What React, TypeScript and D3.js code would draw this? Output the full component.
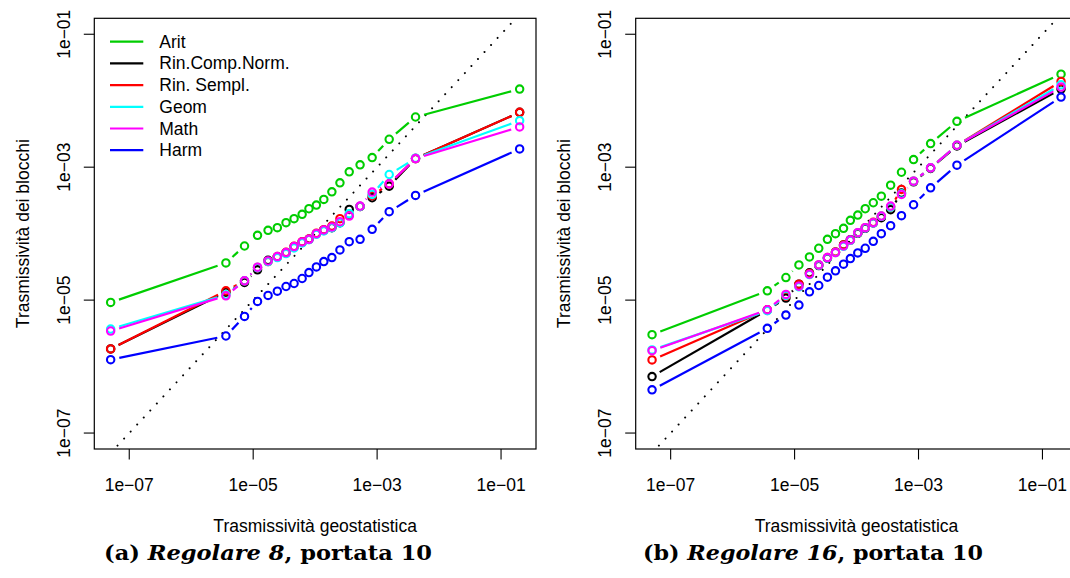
import { useEffect } from 'react';
import * as d3 from 'd3';

// log10 of the geostatistical transmissivity (shared x values)
const geoLog = [-7.30, -5.44, -5.14, -4.93, -4.76, -4.61, -4.47, -4.34, -4.21, -4.10,
  -3.98, -3.86, -3.73, -3.60, -3.45, -3.275, -3.08, -2.805, -2.38, -0.70];

const seriesNames = ['Arit', 'Rin.Comp.Norm.', 'Rin. Sempl.', 'Geom', 'Math', 'Harm'];
const seriesColors = ['#00CD00', '#000000', '#FF0000', '#00FFFF', '#FF00FF', '#0000FF'];

// panel (a) Regolare 8 - log10 block transmissivity
const aArit = [-5.035, -4.44, -4.186, -4.025, -3.95, -3.91, -3.835, -3.775, -3.71, -3.625,
  -3.57, -3.485, -3.37, -3.235, -3.07, -2.965, -2.855, -2.58, -2.245, -1.825];
const aRinComp = [-5.735, -4.88, -4.735, -4.545, -4.40, -4.35, -4.29, -4.20, -4.13, -4.085,
  -4.0, -3.95, -3.91, -3.835, -3.635, -3.59, -3.46, -3.285, -2.87, -2.175];
const aRinSempl = [-5.735, -4.86, -4.71, -4.51, -4.42, -4.345, -4.28, -4.19, -4.12, -4.08,
  -3.995, -3.94, -3.885, -3.775, -3.72, -3.59, -3.43, -3.25, -2.87, -2.175];
const aGeom = [-5.435, -4.92, -4.71, -4.51, -4.42, -4.36, -4.30, -4.215, -4.14, -4.09,
  -4.01, -3.96, -3.91, -3.84, -3.70, -3.59, -3.41, -3.11, -2.865, -2.30];
const aMath = [-5.465, -4.935, -4.71, -4.505, -4.41, -4.345, -4.285, -4.195, -4.125, -4.085,
  -4.0, -3.945, -3.90, -3.82, -3.735, -3.585, -3.375, -3.25, -2.87, -2.395];
const aHarm = [-5.896, -5.54, -5.245, -5.02, -4.93, -4.865, -4.795, -4.75, -4.675, -4.585,
  -4.50, -4.42, -4.36, -4.245, -4.12, -4.085, -3.935, -3.67, -3.425, -2.725];

// panel (b) Regolare 16
const bArit = [-5.52, -4.86, -4.66, -4.47, -4.35, -4.22, -4.085, -4.0, -3.92, -3.80,
  -3.72, -3.625, -3.535, -3.436, -3.27, -3.076, -2.885, -2.645, -2.31, -1.60];
const bRinComp = [-6.15, -5.15, -4.97, -4.76, -4.59, -4.48, -4.37, -4.28, -4.17, -4.09,
  -3.995, -3.92, -3.84, -3.76, -3.64, -3.39, -3.22, -3.02, -2.68, -1.825];
const bRinSempl = [-5.90, -5.145, -4.94, -4.76, -4.60, -4.47, -4.36, -4.275, -4.17, -4.10,
  -3.99, -3.91, -3.83, -3.74, -3.60, -3.335, -3.21, -3.01, -2.67, -1.71];
const bGeom = [-5.75, -5.16, -4.93, -4.80, -4.615, -4.475, -4.365, -4.285, -4.19, -4.10,
  -3.99, -3.915, -3.84, -3.74, -3.60, -3.40, -3.21, -3.01, -2.67, -1.76];
const bMath = [-5.76, -5.145, -4.915, -4.79, -4.61, -4.47, -4.36, -4.285, -4.185, -4.095,
  -3.985, -3.91, -3.835, -3.735, -3.585, -3.41, -3.21, -3.01, -2.67, -1.795];
const bHarm = [-6.35, -5.425, -5.225, -5.075, -4.875, -4.78, -4.655, -4.56, -4.46, -4.375,
  -4.29, -4.22, -4.115, -4.0, -3.88, -3.73, -3.565, -3.31, -2.97, -1.945];

const tickValues = [1e-7, 1e-5, 1e-3, 1e-1];
const tickLabels = ['1e\u221207', '1e\u221205', '1e\u221203', '1e\u221201'];
const yLimLog = [-7, -1];

const FONT = '"Liberation Sans", Arial, Helvetica, sans-serif';
const FS = 17.5;

interface PanelProps {
  id: string;
  left: number;
  series: number[][];
  caption: [string, string, string];
  captionX: number;
  captionLen: number;
  legend?: boolean;
}

function gapped(pts: [number, number][], gap: number) {
  // R type="b": segments shortened by a gap at both ends
  const segs: number[][] = [];
  for (let i = 1; i < pts.length; i++) {
    const [x0, y0] = pts[i - 1];
    const [x1, y1] = pts[i];
    const f = gap / Math.hypot(x1 - x0, y1 - y0);
    if (f < 0.5) segs.push([x0 + f * (x1 - x0), y0 + f * (y1 - y0), x1 - f * (x1 - x0), y1 - f * (y1 - y0)]);
  }
  return segs;
}

function Panel({ id, left, series, caption, captionX, captionLen, legend }: PanelProps) {
  const top = 18.3;
  const width = 441.7;
  const height = 430.7;
  const bottom = top + height;

  const [xmin, xmax] = d3.extent(geoLog) as [number, number];
  const xr = xmax - xmin;
  const x = d3.scaleLog()
    .domain([10 ** (xmin - 0.04 * xr), 10 ** (xmax + 0.04 * xr)])
    .range([left, left + width]);
  const yr = yLimLog[1] - yLimLog[0];
  const y = d3.scaleLog()
    .domain([10 ** (yLimLog[0] - 0.04 * yr), 10 ** (yLimLog[1] + 0.04 * yr)])
    .range([bottom, top]);

  const xd = x.domain();

  return (
    <g>
      <defs>
        <clipPath id={`clip-${id}`}>
          <rect x={left} y={top} width={width} height={height} />
        </clipPath>
      </defs>

      {/* y = x reference */}
      <line x1={x(xd[0] / 10)} y1={y(xd[0] / 10)} x2={x(xd[1] * 10)} y2={y(xd[1] * 10)}
        stroke="#000" strokeWidth={2} strokeDasharray="0.01 9.6" strokeLinecap="round"
        clipPath={`url(#clip-${id})`} />

      {series.map((vals, si) => {
        const pts = vals.map((v, i) => [x(10 ** geoLog[i]), y(10 ** v)] as [number, number]);
        return (
          <g key={si} stroke={seriesColors[si]} fill="none">
            {gapped(pts, 8.8).map((s, i) => (
              <line key={i} x1={s[0]} y1={s[1]} x2={s[2]} y2={s[3]} strokeWidth={2.2} />
            ))}
            {pts.map((p, i) => (
              <circle key={i} cx={p[0]} cy={p[1]} r={3.7} strokeWidth={2.1} />
            ))}
          </g>
        );
      })}

      <rect x={left} y={top} width={width} height={height} fill="none" stroke="#000" strokeWidth={1.2} />

      {/* x axis */}
      {tickValues.map((t, i) => (
        <g key={`x${i}`}>
          <line x1={x(t)} x2={x(t)} y1={bottom} y2={bottom + 10.5} stroke="#000" strokeWidth={1.1} />
          <text x={x(t)} y={490.7} textAnchor="middle" fontFamily={FONT} fontSize={FS}>{tickLabels[i]}</text>
        </g>
      ))}
      {/* y axis */}
      {tickValues.map((t, i) => (
        <g key={`y${i}`}>
          <line x1={left - 10.5} x2={left} y1={y(t)} y2={y(t)} stroke="#000" strokeWidth={1.1} />
          <text transform={`translate(${left - 24.3},${y(t)}) rotate(-90)`} textAnchor="middle"
            fontFamily={FONT} fontSize={FS}>{tickLabels[i]}</text>
        </g>
      ))}

      <text x={left + width / 2} y={532} textAnchor="middle" fontFamily={FONT} fontSize={FS}>
        Trasmissività geostatistica
      </text>
      <text transform={`translate(${left - 65.8},${top + height / 2}) rotate(-90)`} textAnchor="middle"
        fontFamily={FONT} fontSize={FS}>
        Trasmissività dei blocchi
      </text>

      {legend && seriesNames.map((name, i) => (
        <g key={name} transform={`translate(0,${41.7 + i * 21.7})`}>
          <line x1={110} x2={143.3} y1={0} y2={0} stroke={seriesColors[i]} strokeWidth={2.2} />
          <text x={159.3} y={6} fontFamily={FONT} fontSize={FS}>{name}</text>
        </g>
      ))}

      <text x={captionX} y={560} textAnchor="middle" fontFamily='"DejaVu Serif", serif' fontWeight="bold"
        fontSize={19.5} textLength={captionLen} lengthAdjust="spacingAndGlyphs">
        <tspan>{caption[0]}</tspan>
        <tspan fontStyle="italic">{caption[1]}</tspan>
        <tspan>{caption[2]}</tspan>
      </text>
    </g>
  );
}

export default function App() {
  useEffect(() => {
    document.body.style.margin = '0';
  }, []);

  return (
    <svg width={1070} height={578} style={{ display: 'block', background: '#fff' }}>
      <Panel id="a" left={94.3}
        series={[aArit, aRinComp, aRinSempl, aGeom, aMath, aHarm]}
        caption={['(a) ', 'Regolare 8', ', portata 10']} captionX={268} captionLen={328} legend />
      <Panel id="b" left={635.7}
        series={[bArit, bRinComp, bRinSempl, bGeom, bMath, bHarm]}
        caption={['(b) ', 'Regolare 16', ', portata 10']} captionX={813} captionLen={340} />
    </svg>
  );
}
